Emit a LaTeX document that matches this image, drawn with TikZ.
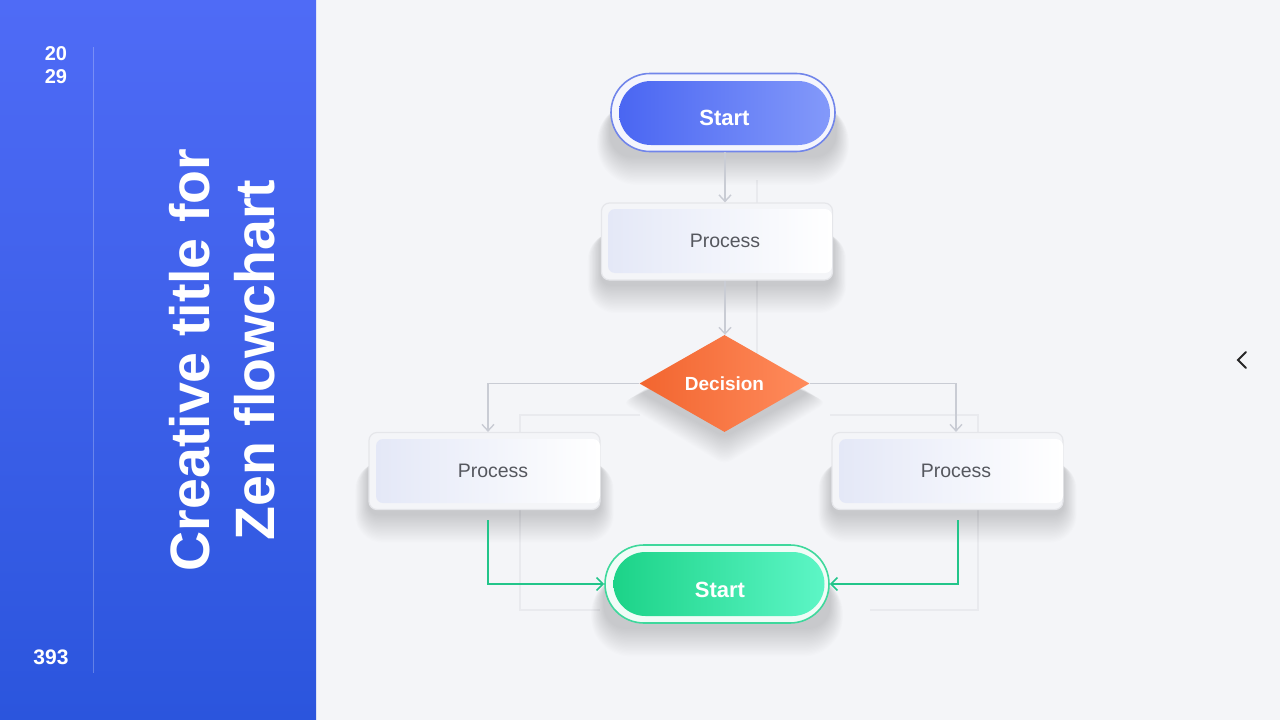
\documentclass[tikz,border=0pt]{standalone}
\usepackage{fontspec}
\setmainfont{Liberation Sans}
\usetikzlibrary{arrows.meta,shapes.geometric,calc}
\pgfdeclarelayer{bg}
\pgfsetlayers{bg,main}
\definecolor{panelTop}{HTML}{4F6BF6}
\definecolor{panelBot}{HTML}{2B55DD}
\definecolor{bgc}{HTML}{F4F5F8}
\definecolor{startL}{HTML}{4A66F2}
\definecolor{startR}{HTML}{8399FA}
\definecolor{ringBlue}{HTML}{7185EA}
\definecolor{procL}{HTML}{E4E8F7}
\definecolor{procR}{HTML}{FFFFFF}
\definecolor{procRing}{HTML}{E5E6EA}
\definecolor{procText}{HTML}{55575E}
\definecolor{decL}{HTML}{F2652F}
\definecolor{decR}{HTML}{FF8B5C}
\definecolor{endL}{HTML}{1CD388}
\definecolor{endR}{HTML}{5DF6C6}
\definecolor{ringGreen}{HTML}{3ED89C}
\definecolor{conGray}{HTML}{C9CCD4}
\definecolor{conGreen}{HTML}{22C58A}
\definecolor{ghost}{HTML}{E9EAEE}
% soft shadow below a box: #1 node, #2 base corner radius
\newcommand{\softbox}[2]{%
  \begin{pgfonlayer}{bg}
  \foreach \i in {1,...,22}{%
    \pgfmathsetmacro{\rc}{#2+0.8*\i}%
    \fill[black,opacity=0.009,rounded corners=\rc pt]
      ($(#1.north west)+(-0.6*\i,30)$) rectangle ($(#1.south east)+(0.6*\i,4+1.3*\i)$);}
  \end{pgfonlayer}}
\newcommand{\softdia}[1]{%
  \begin{pgfonlayer}{bg}
  \foreach \i in {1,...,22}{%
    \fill[black,opacity=0.009,rounded corners=8pt]
      ($(#1.north)+(0,20)$) -- ($(#1.east)+(0.8*\i,8+0.5*\i)$) -- ($(#1.south)+(0,4+1.3*\i)$) -- ($(#1.west)+(-0.8*\i,8+0.5*\i)$) -- cycle;}
  \end{pgfonlayer}}
\tikzset{
  pillring/.style={rectangle,rounded corners=39pt,minimum width=224pt,minimum height=78pt,inner sep=0pt},
  pillin/.style={rectangle,rounded corners=32pt,minimum width=211pt,minimum height=64pt,inner sep=0pt},
  pilltext/.style={text=white,font=\fontsize{22}{26}\selectfont\bfseries},
  procring/.style={rectangle,rounded corners=8pt,minimum width=231pt,minimum height=77pt,inner sep=0pt,
     draw=procRing,line width=1.2pt,fill=bgc},
  procin/.style={rectangle,rounded corners=7pt,minimum width=224pt,minimum height=64pt,inner sep=0pt,
     left color=procL,right color=procR,text=procText,font=\fontsize{19.5}{23}\selectfont},
  con/.style={draw=conGray,line width=1.6pt,-{Straight Barb[length=6.5pt,width=12pt,line width=1.4pt]}},
  gcon/.style={draw=conGreen,line width=1.8pt,-{Straight Barb[length=6.5pt,width=13pt,line width=1.6pt]}},
  ghostline/.style={draw=ghost,line width=2pt},
}
\begin{document}
\begin{tikzpicture}[x=1pt,y=-1pt]
\begin{pgfonlayer}{bg}
\fill[bgc] (0,0) rectangle (1280,720);
\end{pgfonlayer}
\useasboundingbox (0,0) rectangle (1280,720);
% left panel
\shade[top color=panelTop,bottom color=panelBot] (0,0) rectangle (316,720);
\draw[white,opacity=0.25,line width=0.8pt] (93,47) -- (93,673);
\node[text=white,font=\fontsize{20}{23}\selectfont\bfseries,align=center] (yr) at (56,65) {20\\29};
\node[text=white,font=\fontsize{21}{24}\selectfont\bfseries] (pg) at (51,657) {393};
\node[text=white,rotate=90,align=center,font=\fontsize{55.5}{65}\selectfont\bfseries] (title) at (222,360)
  {Creative title for\\Zen flowchart};
% ghost lines (faint back layer)
\coordinate (g1) at (757,180); \coordinate (g2) at (757,360);
\coordinate (g3) at (520,415); \coordinate (g4) at (640,415);
\coordinate (g5) at (520,610); \coordinate (g6) at (600,610);
\coordinate (g7) at (830,415); \coordinate (g8) at (978,415);
\coordinate (g9) at (978,610); \coordinate (g10) at (870,610);
\begin{pgfonlayer}{bg}
\draw[ghostline] (g1) -- (g2);
\draw[ghostline] (g4) -- (g3) -- (g5) -- (g6);
\draw[ghostline] (g7) -- (g8) -- (g9) -- (g10);
\end{pgfonlayer}
% top start
\node[pillring,draw=ringBlue,line width=1.6pt,fill=white!92!ringBlue] (sring) at (723,112.5) {};
\node[pillin,left color=startL,right color=startR] (s) at (724.5,113) {};
\node[pilltext] (st) at (724.5,118) {Start};
\softbox{sring}{22}
% process top
\node[procring] (p1) at (717,241.5) {};
\node[procin] (p1in) at (720,241) {\hspace{10pt}Process};
\softbox{p1}{10}
% decision
\node[diamond,shape aspect=1.75,minimum width=170pt,minimum height=97pt,inner sep=0pt,
  left color=decL,right color=decR,text=white,font=\fontsize{19}{23}\selectfont\bfseries] (d) at (724.5,383.5) {Decision};
\softdia{d}
% left / right process
\node[procring] (lp) at (484.5,471) {};
\node[procin] (lpin) at (488,471) {\hspace{10pt}Process};
\softbox{lp}{10}
\node[procring] (rp) at (947.5,471) {};
\node[procin] (rpin) at (951,471) {\hspace{10pt}Process};
\softbox{rp}{10}
% end
\node[pillring,draw=ringGreen,line width=1.6pt,fill=white!92!ringGreen] (ering) at (717,584) {};
\node[pillin,left color=endL,right color=endR] (e) at (719,584) {};
\node[pilltext] (et) at (720,590) {Start};
\softbox{ering}{22}
% connectors
\draw[con] (s.south -| sring.south) ++(2,7) coordinate (a0) -- (a0 |- p1.north);
\draw[con] (p1in.south |- p1.south) ++(5,0) coordinate (a1) -- (a1 |- d.north);
\coordinate (lbr) at ($(lpin.north |- lp.north)$);
\coordinate (rbr) at ($(rpin.north |- rp.north)+(5,0)$);
\draw[con] (d.west) -| (lbr);
\draw[con] (d.east) -| (rbr);
\coordinate (lbot) at ($(lpin.south |- lp.south)+(0,10)$);
\coordinate (rbot) at ($(rpin.south |- rp.south)+(7,10)$);
\draw[gcon] (lbot) |- (ering.west);
\draw[gcon] (rbot) |- (ering.east);
% chevron
\coordinate (c1) at (1246,352); \coordinate (c2) at (1238,360); \coordinate (c3) at (1246,368);
\draw[black!85,line width=2pt,line cap=round,line join=miter] (c1) -- (c2) -- (c3);
\end{tikzpicture}
\end{document}
